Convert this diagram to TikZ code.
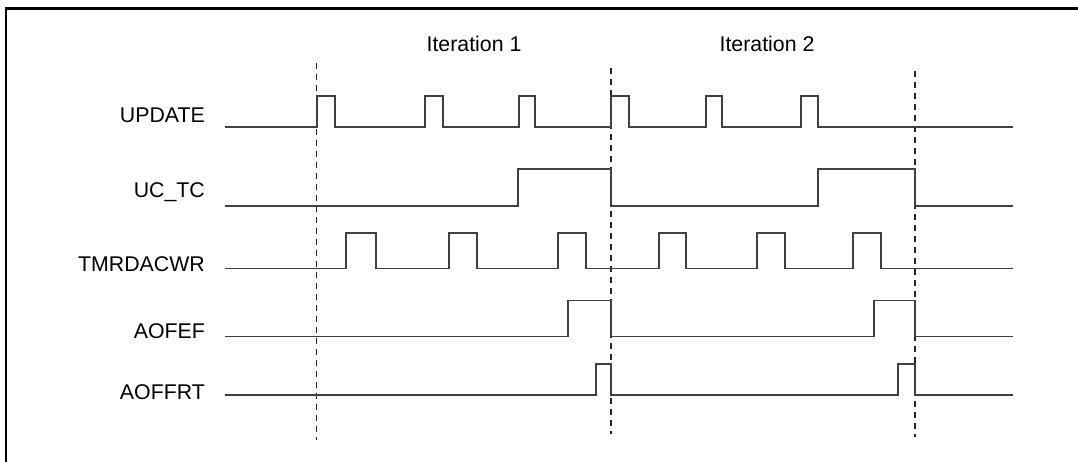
\documentclass[tikz,border=0pt]{standalone}
\usepackage{fontspec}
\setmainfont{Liberation Sans}
\usepackage{tikz}

\begin{document}
\begin{tikzpicture}[
  x=1pt, y=-1pt,
  lbl/.style={anchor=base east, inner sep=0pt,
              font=\fontsize{21.3}{25}\selectfont},
  ttl/.style={anchor=base, inner sep=0pt,
              font=\fontsize{21.3}{25}\selectfont},
  sig/.style={line width=1.5pt, draw=black!75},
  brk/.style={line width=1.2pt, dash pattern=on 6pt off 5pt, draw=black!85},
  frm/.style={line width=2.5pt}
]
\useasboundingbox (0,0) rectangle (1078,462);
% frame (top and left edge only)
\draw[frm] (6,462) -- (6,8.5) -- (1078,8.5);

% titles
\node[ttl] (it1) at (474,51.5) {Iteration 1};
\node[ttl] (it2) at (767,51.5) {Iteration 2};

% signal names
\node[lbl] (update) at (205,123) {UPDATE};
\node[lbl] (uctc)   at (205,198) {UC\_TC};
\node[lbl] (tmrdac) at (205,271.5) {TMRDACWR};
\node[lbl] (aofef)  at (205,338) {AOFEF};
\node[lbl] (aoffrt) at (205,399) {AOFFRT};

% iteration boundaries
\coordinate (b1t) at (316.5,63);  \coordinate (b1b) at (316.5,440);
\coordinate (b2t) at (611,68);    \coordinate (b2b) at (611,434);
\coordinate (b3t) at (915,71);    \coordinate (b3b) at (915,437);
\draw[brk] (b1t) -- (b1b);
\draw[brk] (b2t) -- (b2b);
\draw[brk] (b3t) -- (b3b);

% waveforms
\draw[sig] (225,127)
  \foreach \a/\b in {317/335, 425/443, 519/535, 611/629, 706/722, 801/818}{
    -- (\a,127) -- (\a,96) -- (\b,96) -- (\b,127)
  } -- (1013,127);
\draw[sig] (225,206)
  \foreach \a/\b in {518/611, 818/915}{
    -- (\a,206) -- (\a,169) -- (\b,169) -- (\b,206)
  } -- (1013,206);
\draw[sig] (225,268.5)
  \foreach \a/\b in {346/376, 449/477, 558/586, 659/686, 757/785, 853/881}{
    -- (\a,268.5) -- (\a,233) -- (\b,233) -- (\b,268.5)
  } -- (1013,268.5);
\draw[sig] (225,336.5)
  \foreach \a/\b in {568/611, 874/915}{
    -- (\a,336.5) -- (\a,300.5) -- (\b,300.5) -- (\b,336.5)
  } -- (1013,336.5);
\draw[sig] (225,395)
  \foreach \a/\b in {596/611, 898/915}{
    -- (\a,395) -- (\a,364) -- (\b,364) -- (\b,395)
  } -- (1013,395);
\end{tikzpicture}
\end{document}
